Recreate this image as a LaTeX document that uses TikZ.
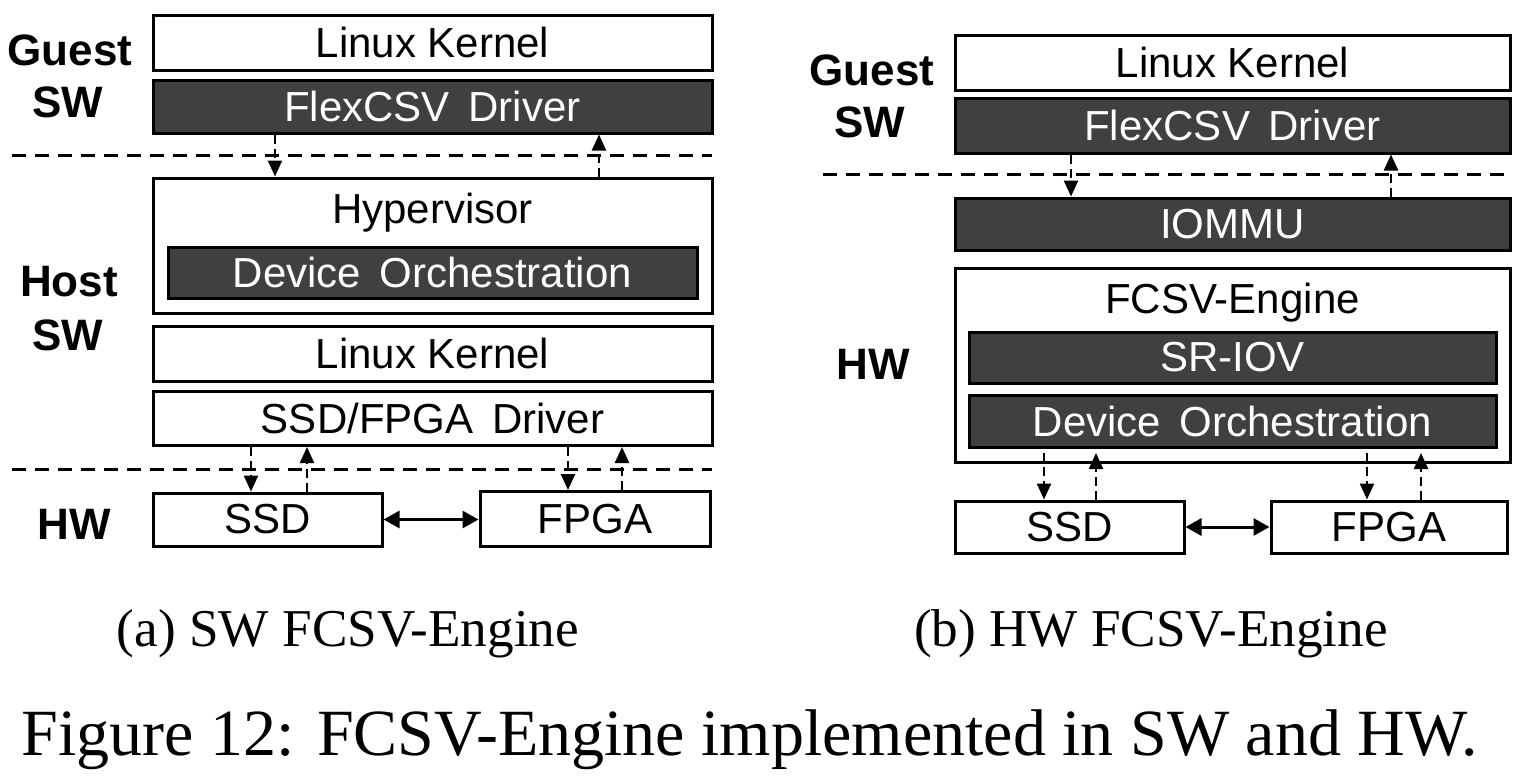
\documentclass[tikz,border=0pt]{standalone}
\usepackage{fontspec}
\setmainfont{Liberation Serif}
\setsansfont{Liberation Sans}
\usetikzlibrary{arrows.meta}
\definecolor{darkbox}{HTML}{404040}
\tikzset{
  box/.style={draw=black, line width=1.5pt, fill=white, inner sep=0pt,
    font=\sffamily\fontsize{21pt}{24pt}\selectfont, text=black},
  darkbox/.style={box, fill=darkbox, text=white},
  lbl/.style={font=\sffamily\bfseries\fontsize{22pt}{24pt}\selectfont, inner sep=0pt},
  btxt/.style={font=\sffamily\fontsize{21pt}{24pt}\selectfont, inner sep=0pt},
  sep/.style={line width=1.5pt, dash pattern=on 7pt off 4.5pt},
  darr/.style={line width=1.2pt, dash pattern=on 4.5pt off 2.5pt,
    -{Triangle[length=8pt,width=7pt]}},
  biarr/.style={line width=1.5pt, {Triangle[length=8pt,width=8.5pt]}-{Triangle[length=8pt,width=8.5pt]}},
  captxt/.style={font=\rmfamily\fontsize{26.6pt}{30pt}\selectfont, inner sep=0pt, anchor=base}
}
\begin{document}
\begin{tikzpicture}[x=0.5pt,y=-0.5pt]
\useasboundingbox (0,0) rectangle (1527,777);
% ---------- (a) ----------
\node[lbl] (gA1) at (70,50) {Guest};
\node[lbl] (gA2) at (68,102) {SW};
\node[lbl] (hA1) at (69,282) {Host};
\node[lbl] (hA2) at (68,335) {SW};
\node[lbl] (hwA) at (74,524) {HW};

\node[box, minimum width=279.5pt, minimum height=27.5pt] (lkA) at (432.5,42.5) {Linux Kernel};
\node[darkbox, minimum width=279.5pt, minimum height=26.5pt] (fdA) at (432.5,106.5) {FlexCSV\, Driver};
\node[box, minimum width=279.5pt, minimum height=67.5pt] (hvA) at (432.5,245.5) {};
\node[btxt] (hvtA) at (432.5,213) {Hypervisor};
\node[darkbox, minimum width=264.5pt, minimum height=25.5pt] (doA) at (432.5,272.5) {Device\, Orchestration};
\node[box, minimum width=279.5pt, minimum height=27.5pt] (lk2A) at (432.5,353.5) {Linux Kernel};
\node[box, minimum width=279.5pt, minimum height=27pt] (drA) at (432.5,418.5) {SSD/FPGA\, Driver};
\node[box, minimum width=114.5pt, minimum height=26.5pt] (ssdA) at (267.5,519.5) {SSD};
\node[box, minimum width=115pt, minimum height=27.5pt] (fpgaA) at (595,519) {FPGA};

\coordinate (sAl) at (12,155);
\coordinate (sAr) at (712,155);
\coordinate (tAl) at (12,469);
\coordinate (tAr) at (712,469);
\draw[sep] (sAl) -- (sAr);
\draw[sep] (tAl) -- (tAr);

\coordinate (xa1) at (275,0);
\coordinate (xa2) at (599,0);
\coordinate (xa3) at (251,0);
\coordinate (xa4) at (307,0);
\coordinate (xa5) at (568,0);
\coordinate (xa6) at (622,0);
\draw[darr] (fdA.south -| xa1) -- (hvA.north -| xa1);
\draw[darr] (hvA.north -| xa2) -- (fdA.south -| xa2);
\draw[darr] (drA.south -| xa3) -- (ssdA.north -| xa3);
\draw[darr] (ssdA.north -| xa4) -- (drA.south -| xa4);
\draw[darr] (drA.south -| xa5) -- (fpgaA.north -| xa5);
\draw[darr] (fpgaA.north -| xa6) -- (drA.south -| xa6);
\draw[biarr] (ssdA.east) -- (ssdA.east -| fpgaA.west);

% ---------- (b) ----------
\node[lbl] (gB1) at (872,70) {Guest};
\node[lbl] (gB2) at (870,122) {SW};
\node[lbl] (hwB) at (873,364) {HW};

\node[box, minimum width=277.5pt, minimum height=27.5pt] (lkB) at (1232.5,62.5) {Linux Kernel};
\node[darkbox, minimum width=277.5pt, minimum height=27.5pt] (fdB) at (1232.5,125.5) {FlexCSV\, Driver};
\node[darkbox, minimum width=277.5pt, minimum height=26pt] (ioB) at (1232.5,224) {IOMMU};
\node[box, minimum width=277.5pt, minimum height=97pt] (engB) at (1232.5,365) {};
\node[btxt] (engtB) at (1232.5,303) {FCSV-Engine};
\node[darkbox, minimum width=263.5pt, minimum height=25.5pt] (srB) at (1232.5,357.5) {SR-IOV};
\node[darkbox, minimum width=263.5pt, minimum height=26pt] (doB) at (1232.5,421) {Device\, Orchestration};
\node[box, minimum width=114.5pt, minimum height=26pt] (ssdB) at (1069.5,527) {SSD};
\node[box, minimum width=118pt, minimum height=26pt] (fpgaB) at (1389,527) {FPGA};

\coordinate (sBl) at (823,174);
\coordinate (sBr) at (1512,174);
\draw[sep] (sBl) -- (sBr);

\coordinate (xb1) at (1071,0);
\coordinate (xb2) at (1391,0);
\coordinate (yb) at (0,453);
\coordinate (xb3) at (1044,0);
\coordinate (xb4) at (1096,0);
\coordinate (xb5) at (1367,0);
\coordinate (xb6) at (1421,0);
\draw[darr] (fdB.south -| xb1) -- (ioB.north -| xb1);
\draw[darr] (ioB.north -| xb2) -- (fdB.south -| xb2);
\draw[darr] (yb -| xb3) -- (ssdB.north -| xb3);
\draw[darr] (ssdB.north -| xb4) -- (yb -| xb4);
\draw[darr] (yb -| xb5) -- (fpgaB.north -| xb5);
\draw[darr] (fpgaB.north -| xb6) -- (yb -| xb6);
\draw[biarr] (ssdB.east) -- (ssdB.east -| fpgaB.west);

% ---------- captions ----------
\node[captxt] (capA) at (348,646) {(a) SW FCSV-Engine};
\node[captxt] (capB) at (1151,646) {(b) HW FCSV-Engine};
\node[captxt, font=\rmfamily\fontsize{33pt}{36pt}\selectfont] (capF) at (750,755) {Figure 12: FCSV-Engine implemented in SW and HW.};
\end{tikzpicture}
\end{document}
